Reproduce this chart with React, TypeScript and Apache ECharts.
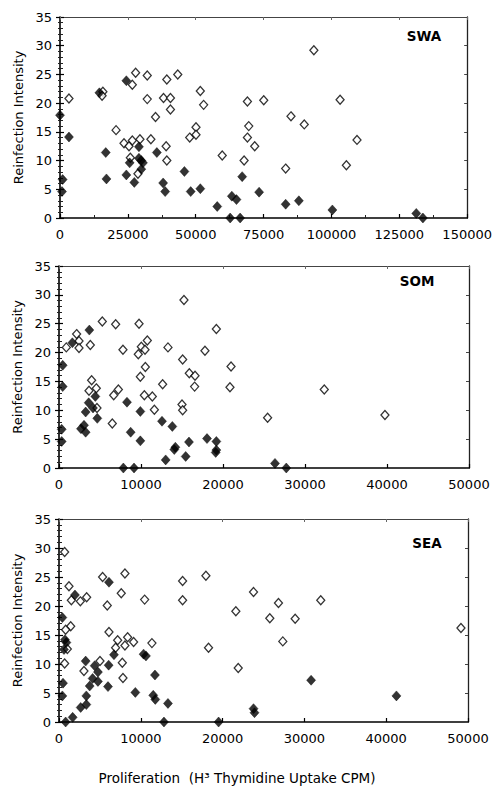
import React, { useEffect, useRef } from "react";
import * as echarts from "echarts";

const panelNames = ["SWA", "SOM", "SEA"];
const xMaxes = [150000, 50000, 50000];
const xIntervals = [25000, 10000, 10000];
const yTitle = "Reinfection Intensity";
const xTitle = "Proliferation  (H³ Thymidine Uptake CPM)";

const swaOpen: [number, number][] = [
  [3300, 20.8], [15800, 22.0], [15500, 21.3], [27860, 25.3], [26640, 23.2], [32140, 24.8], [32140, 20.7],
  [39350, 24.1], [43380, 25.0], [38130, 20.9], [40690, 20.9], [40690, 18.9], [35190, 17.6], [20650, 15.3],
  [23580, 13.0], [25420, 12.5], [26640, 13.5], [29450, 13.7], [33480, 13.7], [25910, 10.5], [28720, 7.7],
  [39100, 12.5], [39350, 10.0], [47780, 14.0], [50100, 15.8], [50100, 14.5], [51690, 22.1], [52910, 19.7],
  [59760, 10.9], [67820, 10.0], [69040, 20.3], [69530, 16.0], [69040, 14.0], [71730, 12.5], [93520, 29.2],
  [75060, 20.5], [103180, 20.6], [85090, 17.7], [89980, 16.3], [109410, 13.6], [83130, 8.6], [105500, 9.2],
];
const swaFilled: [number, number][] = [
  [0, 17.9], [980, 6.7], [730, 4.6], [3300, 14.1], [14500, 21.8], [16860, 11.4], [17110, 6.8], [24440, 23.9],
  [25660, 9.6], [24440, 7.5], [27370, 6.2], [29080, 12.4], [29080, 10.4], [29940, 10.0], [30550, 9.6],
  [29940, 8.5], [35680, 11.4], [38000, 6.1], [38740, 4.6], [45830, 8.1], [48150, 4.6], [51690, 5.1],
  [57920, 2.0], [62690, 0], [66360, 0], [63300, 3.8], [65010, 3.2], [67110, 7.2], [73350, 4.5], [83130, 2.4],
  [87990, 3.0], [100340, 1.4], [131240, 0.8], [133680, 0],
];
const somOpen: [number, number][] = [
  [890, 20.9], [2150, 23.2], [2440, 22.0], [2440, 20.8], [3820, 21.3], [5280, 25.4], [6910, 24.9], [9760, 25.0],
  [7800, 20.5], [9670, 19.7], [10040, 21.0], [10490, 20.5], [10770, 22.1], [9920, 15.8], [10530, 17.5],
  [13290, 20.9], [15240, 29.1], [15080, 18.8], [15890, 16.4], [16590, 16.0], [16540, 14.1], [17800, 20.3],
  [19190, 24.1], [20980, 17.6], [20850, 14.0], [3980, 15.2], [3660, 13.4], [4550, 13.8], [4630, 10.4],
  [7240, 13.6], [6670, 12.6], [6500, 7.7], [10410, 12.6], [11380, 12.4], [11630, 10.1], [12640, 14.5],
  [15000, 11.0], [15080, 10.0], [25440, 8.7], [32350, 13.6], [39750, 9.2],
];
const somFilled: [number, number][] = [
  [450, 17.8], [450, 14.1], [330, 6.7], [330, 4.6], [1630, 21.7], [3700, 23.9], [3620, 11.3], [3250, 9.7],
  [4150, 10.4], [4430, 12.4], [4670, 8.6], [2680, 6.8], [3050, 7.4], [3250, 6.2], [8290, 11.4], [8740, 6.2],
  [9920, 9.8], [9920, 4.7], [7850, 0], [9150, 0], [12560, 8.1], [13820, 7.2], [14060, 3.2], [14190, 3.6],
  [13010, 1.4], [15450, 2.0], [15850, 4.5], [18050, 5.1], [19190, 4.6], [19110, 2.7], [19190, 3.1],
  [26340, 0.8], [27720, 0],
];
const seaOpen: [number, number][] = [
  [690, 29.3], [1220, 23.4], [1510, 21.0], [2610, 20.8], [3380, 21.5], [1430, 16.5], [810, 15.9], [1020, 12.6],
  [690, 10.1], [3050, 8.8], [5010, 10.5], [5330, 25.0], [5900, 20.1], [6110, 15.5], [7610, 22.2], [8060, 25.6],
  [7170, 14.1], [6920, 12.8], [8390, 14.6], [8060, 13.2], [9120, 13.8], [7740, 10.2], [7820, 7.6],
  [10470, 21.1], [11360, 13.6], [15110, 24.3], [15110, 21.0], [17960, 25.2], [18280, 12.8], [21620, 19.1],
  [21910, 9.3], [23780, 22.4], [26830, 20.5], [25770, 17.9], [28870, 17.8], [32000, 21.0], [27360, 13.9],
  [49140, 16.2],
];
const seaFilled: [number, number][] = [
  [410, 18.0], [490, 6.7], [410, 4.5], [730, 14.2], [610, 12.5], [900, 13.7], [810, 0], [1670, 0.8],
  [1950, 21.9], [2650, 2.5], [3340, 3.0], [3340, 4.5], [3260, 10.5], [3750, 6.2], [4110, 7.5], [4360, 9.7],
  [4760, 7.0], [4760, 8.6], [6110, 24.1], [6070, 9.8], [5990, 6.1], [6720, 11.6], [9330, 5.1], [10340, 11.7],
  [10630, 11.4], [11730, 8.1], [11520, 4.6], [11770, 3.9], [13320, 3.2], [12830, 0], [19510, 0],
  [23780, 2.3], [23900, 1.6], [30820, 7.2], [41250, 4.5],
];

const openSets = [swaOpen, somOpen, seaOpen];
const filledSets = [swaFilled, somFilled, seaFilled];

const FONT = "DejaVu Sans";
const grids = [
  { left: 60, top: 17, width: 409, height: 201 },
  { left: 59, top: 266, width: 410, height: 202 },
  { left: 59, top: 519, width: 409, height: 203 },
];
const labelPos = [
  [424, 36],
  [417, 281],
  [427, 543],
];

export default function App() {
  const ref = useRef<HTMLDivElement>(null);
  useEffect(() => {
    if (!ref.current) return;
    const chart = echarts.init(ref.current, undefined, { renderer: "svg" });
    const xAxis: any[] = [];
    const yAxis: any[] = [];
    const series: any[] = [];
    grids.forEach((g, i) => {
      xAxis.push({
        type: "value",
        gridIndex: i,
        position: "bottom",
        min: 0,
        max: xMaxes[i],
        interval: xIntervals[i],
        axisLine: { show: true, onZero: false, lineStyle: { color: "#000", width: 1.6 } },
        axisTick: { show: true, inside: true, length: 4, lineStyle: { color: "#000", width: 1.2 } },
        minorTick: { show: i === 0, splitNumber: 2, length: 3, lineStyle: { color: "#222", width: 1 } },
        axisLabel: { color: "#000", fontFamily: FONT, fontSize: 13, margin: 10, formatter: (v: number) => String(v) },
        splitLine: { show: false },
      });
      xAxis.push({
        type: "value",
        gridIndex: i,
        position: "top",
        min: 0,
        max: xMaxes[i],
        interval: xIntervals[i],
        axisLine: { show: true, onZero: false, lineStyle: { color: "#444", width: 1 } },
        axisTick: { show: true, inside: true, length: 3, lineStyle: { color: "#666", width: 1 } },
        axisLabel: { show: false },
        splitLine: { show: false },
      });
      yAxis.push({
        type: "value",
        gridIndex: i,
        position: "left",
        min: 0,
        max: 35,
        interval: 5,
        name: yTitle,
        nameLocation: "middle",
        nameGap: 30,
        nameRotate: 90,
        nameTextStyle: { color: "#000", fontFamily: FONT, fontSize: 13 },
        axisLine: { show: true, onZero: false, lineStyle: { color: "#000", width: 1.6 } },
        axisTick: { show: true, inside: false, length: 4, lineStyle: { color: "#000", width: 1.2 } },
        minorTick: { show: true, splitNumber: 5, length: 2, lineStyle: { color: "#222", width: 1 } },
        axisLabel: { color: "#000", fontFamily: FONT, fontSize: 13, margin: 8 },
        splitLine: { show: false },
      });
      yAxis.push({
        type: "value",
        gridIndex: i,
        position: "right",
        min: 0,
        max: 35,
        interval: 5,
        axisLine: { show: true, onZero: false, lineStyle: { color: "#222", width: 1.3 } },
        axisTick: { show: true, inside: true, length: 3, lineStyle: { color: "#444", width: 1 } },
        axisLabel: { show: false },
        splitLine: { show: false },
      });
      yAxis.push({
        type: "value",
        gridIndex: i,
        position: "left",
        offset: 0,
        min: 0,
        max: 35,
        interval: 5,
        axisLine: { show: false },
        axisTick: { show: true, inside: true, length: 4, lineStyle: { color: "#000", width: 1.2 } },
        minorTick: { show: true, splitNumber: 5, length: 3, lineStyle: { color: "#222", width: 1 } },
        axisLabel: { show: false },
        splitLine: { show: false },
      });
      series.push({
        type: "scatter",
        xAxisIndex: i * 2,
        yAxisIndex: i * 3,
        symbol: "diamond",
        symbolSize: [8, 9],
        clip: false,
        data: openSets[i],
        itemStyle: { color: "#fff", borderColor: "#000", borderWidth: 1.3 },
      });
      series.push({
        type: "scatter",
        xAxisIndex: i * 2,
        yAxisIndex: i * 3,
        symbol: "diamond",
        symbolSize: [9, 10],
        clip: false,
        data: filledSets[i],
        itemStyle: { color: "#000", borderColor: "#000", borderWidth: 0.5 },
      });
    });

    const graphics: any[] = panelNames.map((name, i) => ({
      type: "text",
      x: labelPos[i][0],
      y: labelPos[i][1],
      style: {
        text: name,
        fill: "#000",
        font: `bold 13.5px "${FONT}"`,
        textAlign: "center",
        textVerticalAlign: "middle",
      },
    }));
    graphics.push({
      type: "text",
      x: 237,
      y: 778,
      style: {
        text: xTitle,
        fill: "#000",
        font: `13.5px "${FONT}"`,
        textAlign: "center",
        textVerticalAlign: "middle",
      },
    });

    chart.setOption({
      animation: false,
      backgroundColor: "#fff",
      grid: grids.map((g) => ({ ...g, containLabel: false })),
      xAxis,
      yAxis,
      series,
      graphic: graphics,
    });
    return () => chart.dispose();
  }, []);
  return (
    <div
      ref={ref}
      style={{ position: "absolute", left: 0, top: 0, width: 495, height: 791 }}
    />
  );
}
